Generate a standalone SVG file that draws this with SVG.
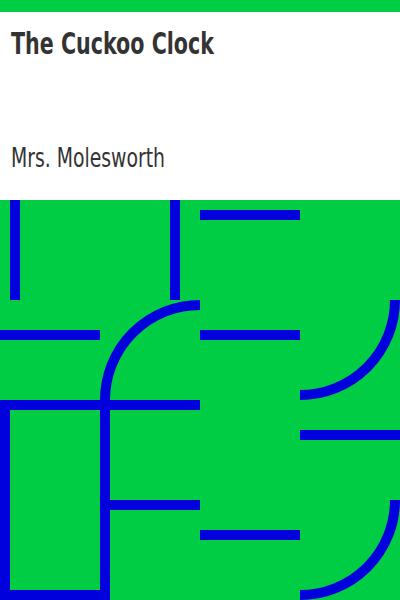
<svg xmlns="http://www.w3.org/2000/svg" width="400" height="600" viewBox="0 0 400 600">
<style>
.t{font-family:"DejaVu Sans",sans-serif;font-stretch:condensed;fill:#333333}
.b{stroke:#0000DD;stroke-width:10;fill:none}
</style>
<rect x="0" y="0" width="400" height="600" fill="#ffffff"/>
<rect x="0" y="0" width="400" height="12" fill="#00CC44"/>
<rect x="0" y="200" width="400" height="400" fill="#00CC44"/>
<g id="title"><text class="t" x="11" y="54" font-size="30" font-weight="bold" textLength="203" lengthAdjust="spacingAndGlyphs">The Cuckoo Clock</text></g>
<g id="author"><text class="t" x="11" y="167" font-size="26" textLength="154" lengthAdjust="spacingAndGlyphs">Mrs. Molesworth</text></g>
<g id="connectors" class="b">
<line x1="15" y1="200" x2="15" y2="300"/>
<line x1="175" y1="200" x2="175" y2="300"/>
<line x1="200" y1="215" x2="300" y2="215"/>
<line x1="0" y1="335" x2="100" y2="335"/>
<line x1="200" y1="335" x2="300" y2="335"/>
<path d="M105,400 A95,95 0 0 1 200,305"/>
<line x1="0" y1="405" x2="200" y2="405"/>
<rect x="5" y="405" width="100" height="190"/>
<line x1="105" y1="505" x2="200" y2="505"/>
<line x1="200" y1="535" x2="300" y2="535"/>
<line x1="300" y1="435" x2="400" y2="435"/>
<path d="M300,395 A95,95 0 0 0 395,300"/>
<path d="M300,595 A95,95 0 0 0 395,500"/>
</g>
</svg>
